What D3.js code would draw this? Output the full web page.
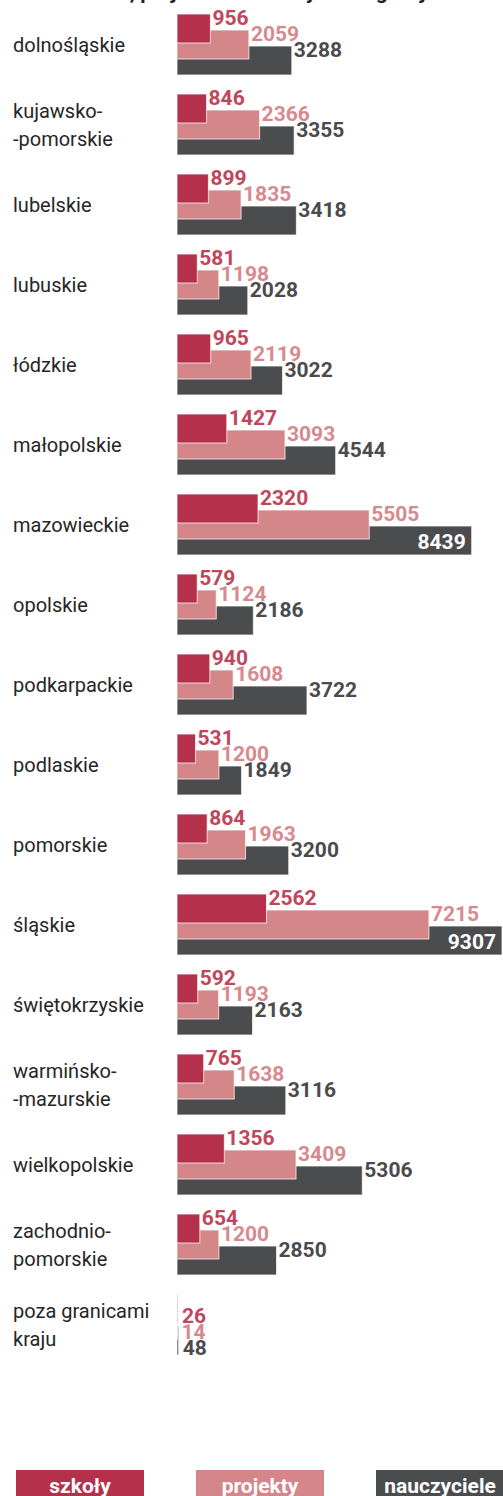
<!DOCTYPE html>
<html>
<head>
<meta charset="utf-8">
<script src="https://cdn.jsdelivr.net/npm/d3@7"></script>
<style>
  html, body { margin: 0; padding: 0; background: #fff; }
  svg { display: block; font-family: Roboto, "Noto Sans", sans-serif; }
</style>
</head>
<body>
<svg id="chart" width="503" height="1496"></svg>
<script>
// Regions (województwa) and the three series per region
const categories = [
  "dolnośląskie", "kujawsko-\n-pomorskie", "lubelskie", "lubuskie", "łódzkie",
  "małopolskie", "mazowieckie", "opolskie", "podkarpackie", "podlaskie",
  "pomorskie", "śląskie", "świętokrzyskie", "warmińsko-\n-mazurskie",
  "wielkopolskie", "zachodnio-\npomorskie", "poza granicami\nkraju"
];
const schools  = [956, 846, 899, 581, 965, 1427, 2320, 579, 940, 531, 864, 2562, 592, 765, 1356, 654, 26];
const projects = [2059, 2366, 1835, 1198, 2119, 3093, 5505, 1124, 1608, 1200, 1963, 7215, 1193, 1638, 3409, 1200, 14];
const teachers = [3288, 3355, 3418, 2028, 3022, 4544, 8439, 2186, 3722, 1849, 3200, 9307, 2163, 3116, 5306, 2850, 48];
const seriesNames = ["szkoły", "projekty", "nauczyciele"];

const W = 503;
const svg = d3.select("#chart");

const series = [
  { name: seriesNames[0], values: schools,  fill: "#b5304b", label: "#c0465c", k: 0 },
  { name: seriesNames[1], values: projects, fill: "#d48689", label: "#d78a8e", k: 1 },
  { name: seriesNames[2], values: teachers, fill: "#4b4c4e", label: "#4a4b4d", k: 2 }
];

const maxVal = d3.max(teachers);
const x = d3.scaleLinear().domain([0, maxVal]).range([177, 502]);
const y = d3.scaleBand().domain(categories).range([14, 14 + categories.length * 80]).padding(0);

const barH = 29, step = 16;

// Title (runs off the top edge)
svg.append("text")
  .attr("x", 12).attr("y", -1)
  .attr("font-size", 21).attr("font-weight", 700).attr("fill", "#222")
  .text("Liczba szkół, projektów i nauczycieli wg województw, 2019");

// Category labels, centred on their group (multi-line where needed)
const catG = svg.append("g");
categories.forEach(c => {
  const lines = c.split("\n");
  const cy = y(c) + 31;
  const t = catG.append("text")
    .attr("x", 13)
    .attr("font-size", 20)
    .attr("fill", "#262626");
  lines.forEach((ln, i) => {
    t.append("tspan")
      .attr("x", 13)
      .attr("y", cy + (i - (lines.length - 1) / 2) * 28)
      .attr("dy", "0.35em")
      .text(ln);
  });
});

// Bars: teachers at the back, schools in front
const barsG = svg.append("g");
[series[2], series[1], series[0]].forEach(s => {
  barsG.selectAll(null)
    .data(categories.map((c, i) => ({ c, v: s.values[i] })))
    .join("rect")
    .attr("x", x(0))
    .attr("y", d => y(d.c) + s.k * step)
    .attr("width", d => x(d.v) - x(0))
    .attr("height", barH)
    .attr("fill", s.fill)
    .attr("stroke", "#fff")
    .attr("stroke-opacity", 0.75)
    .attr("stroke-width", 1);
});

// Value labels
const labG = svg.append("g").attr("font-size", 21).attr("font-weight", 700);
series.forEach(s => {
  s.values.forEach((v, i) => {
    const c = categories[i];
    const end = x(v);
    const top = y(c) + s.k * step;
    const t = labG.append("text").text(v);
    const tw = t.node().getComputedTextLength();
    if (end + 2 + tw > W) {
      t.attr("x", end - 6).attr("y", top + 23)
        .attr("text-anchor", "end").attr("fill", "#fff");
    } else {
      const shift = (end - x(0)) < 2 ? 18 : 0;
      t.attr("x", end + (shift ? 4 : 2)).attr("y", top + 11 + shift)
        .attr("fill", s.label);
    }
  });
});

// Legend
const legX = d3.scalePoint().domain(seriesNames).range([16, 376]);
const legG = svg.append("g");
series.forEach(s => {
  legG.append("rect")
    .attr("x", legX(s.name)).attr("y", 1470)
    .attr("width", 128).attr("height", 30)
    .attr("fill", s.fill);
  legG.append("text")
    .attr("x", legX(s.name) + 64).attr("y", 1493)
    .attr("text-anchor", "middle")
    .attr("font-size", 21).attr("font-weight", 700).attr("fill", "#fff")
    .text(s.name);
});
</script>
</body>
</html>
